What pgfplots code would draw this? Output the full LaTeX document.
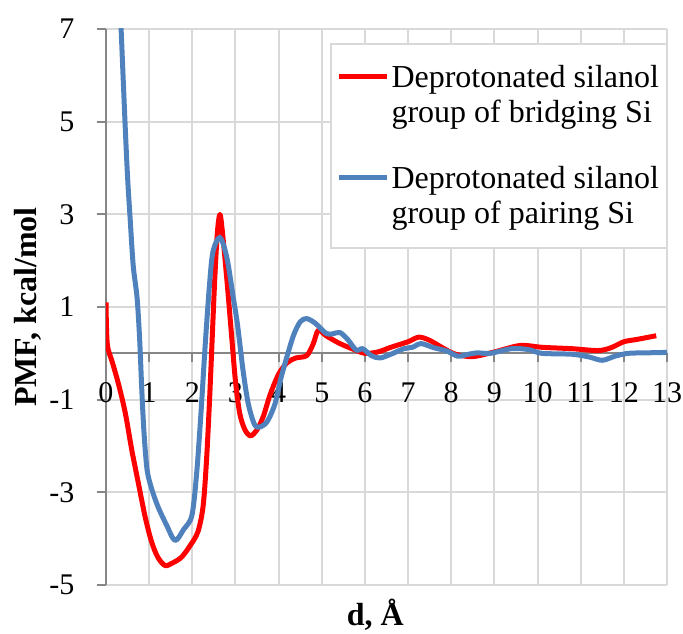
\documentclass[border=0pt]{standalone}
\usepackage{fontspec}
\setmainfont{Liberation Serif}
\usepackage{pgfplots}
\pgfplotsset{compat=1.18}
\definecolor{gridgray}{RGB}{217,217,217}
\definecolor{axisgray}{RGB}{134,134,134}
\definecolor{xlblue}{RGB}{79,129,189}
\begin{document}
\begin{tikzpicture}
\begin{axis}[
  width=561pt, height=556pt, scale only axis,
  xmin=0, xmax=13, ymin=-5, ymax=7,
  axis x line=middle, axis y line=left,
  axis line style={-, color=axisgray, line width=2pt},
  xtick={0,...,13}, ytick={-5,-3,...,7},
  hide obscured x ticks=false,
  grid=major, grid style={gridgray, line width=2pt},
  tick align=outside, major tick length=9pt,
  tick style={axisgray, line width=2pt},
  /pgf/number format/assume math mode=true,
  tick label style={font=\fontsize{30}{36}\selectfont, text=black},
  xticklabel style={yshift=-17pt},
  yticklabel style={xshift=-19pt},
  xlabel={d, Å},
  xlabel style={at={(axis description cs:0.48,-0.072)}, anchor=base, font=\fontsize{32}{38}\selectfont\bfseries},
  ylabel={PMF, kcal/mol},
  ylabel style={at={(axis description cs:-0.139,0.5)}, anchor=center, font=\fontsize{32}{38}\selectfont\bfseries},
]
\addplot[red, line width=5pt, smooth, line join=round] coordinates {
(0,1.1)(0.03,0.2)(0.15,-0.2)(0.3,-0.7)(0.45,-1.3)(0.6,-2.1)(0.75,-2.8)(0.9,-3.5)(1.05,-4.05)(1.2,-4.4)(1.37,-4.58)(1.55,-4.52)(1.75,-4.4)(1.95,-4.15)(2.13,-3.85)(2.25,-3.3)(2.33,-2.3)(2.4,-1.0)(2.46,0.3)(2.52,1.6)(2.58,2.6)(2.64,3.0)(2.7,2.6)(2.8,1.6)(2.9,0.5)(3.0,-0.6)(3.1,-1.3)(3.22,-1.65)(3.35,-1.78)(3.5,-1.65)(3.65,-1.35)(3.8,-0.9)(4.0,-0.45)(4.2,-0.2)(4.4,-0.1)(4.65,-0.05)(4.8,0.2)(4.92,0.5)(5.1,0.38)(5.4,0.22)(5.7,0.1)(6.0,0.0)(6.3,0.03)(6.6,0.13)(7.0,0.25)(7.25,0.35)(7.5,0.28)(7.8,0.12)(8.1,-0.02)(8.5,-0.07)(9.0,0.03)(9.6,0.17)(10.1,0.13)(10.8,0.1)(11.4,0.06)(11.7,0.12)(12.0,0.25)(12.3,0.3)(12.75,0.38)
};
\addplot[xlblue, line width=5pt, smooth, line join=round] coordinates {
(0.3,8.0)(0.35,7.0)(0.44,5.0)(0.5,3.8)(0.56,2.9)(0.63,1.9)(0.72,1.2)(0.78,0.3)(0.83,-0.8)(0.88,-1.7)(0.95,-2.5)(1.05,-2.9)(1.2,-3.3)(1.4,-3.7)(1.6,-4.04)(1.8,-3.8)(1.99,-3.5)(2.1,-2.6)(2.2,-1.3)(2.3,0.2)(2.4,1.5)(2.48,2.2)(2.64,2.5)(2.8,2.07)(2.95,1.2)(3.05,0.6)(3.18,-0.4)(3.3,-1.1)(3.45,-1.55)(3.6,-1.58)(3.75,-1.45)(3.92,-1.08)(4.05,-0.55)(4.2,-0.05)(4.35,0.4)(4.5,0.68)(4.65,0.75)(4.85,0.65)(5.1,0.43)(5.25,0.42)(5.42,0.45)(5.6,0.3)(5.8,0.07)(5.95,0.1)(6.15,-0.05)(6.35,-0.1)(6.6,-0.02)(6.9,0.1)(7.1,0.13)(7.3,0.21)(7.6,0.12)(7.9,0.05)(8.15,-0.06)(8.4,-0.02)(8.6,0.01)(8.9,0.0)(9.4,0.1)(9.8,0.08)(10.1,0.0)(10.8,-0.02)(11.2,-0.08)(11.5,-0.15)(11.8,-0.06)(12.1,0.0)(12.5,0.01)(13,0.02)
};
\node[draw=gridgray, line width=2pt, fill=white, anchor=north east, xshift=1pt, yshift=-14pt,
      inner xsep=8pt, inner ysep=13.5pt, font=\fontsize{32}{35}\selectfont]
  at (rel axis cs:1,1) {%
  \begin{tabular}{@{}l@{\hspace{5pt}}l@{}}
  \textcolor{red}{\rule[8.5pt]{48pt}{5pt}} & \rule{0pt}{30pt}Deprotonated silanol\\
  & group of bridging Si\\[31pt]
  \textcolor{xlblue}{\rule[8.5pt]{48pt}{5pt}} & Deprotonated silanol\\
  & group of pairing Si
  \end{tabular}};
\end{axis}
\pgfresetboundingbox
\useasboundingbox (-106pt,-48pt) rectangle (577pt,585pt);
\end{tikzpicture}
\end{document}
